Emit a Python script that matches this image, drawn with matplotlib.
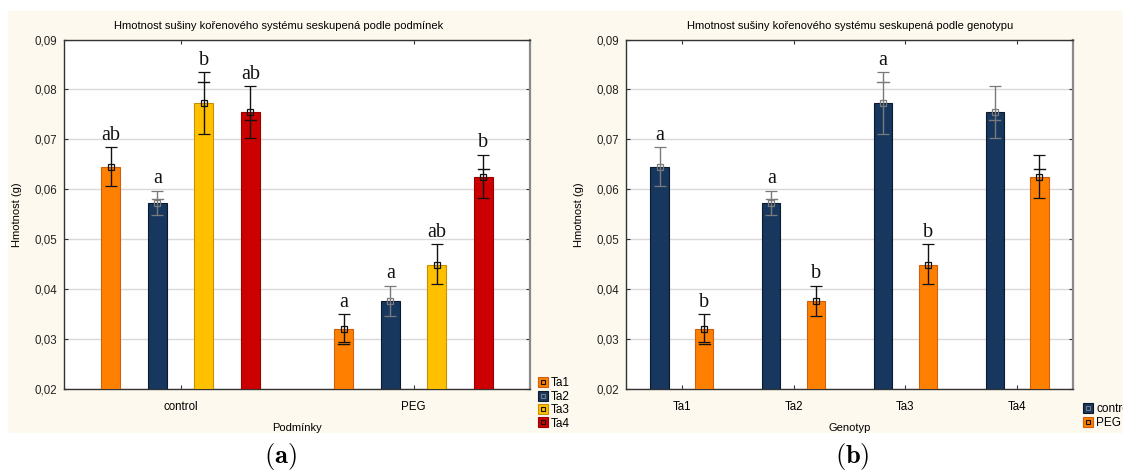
"""Root dry mass by condition / genotype, two grouped bar panels."""
import numpy as np
import matplotlib
matplotlib.use("Agg")
import matplotlib.pyplot as plt
from matplotlib.lines import Line2D
from matplotlib.patches import Rectangle

plt.rcParams["font.family"] = ["Liberation Sans", "DejaVu Sans"]
plt.rcParams["mathtext.fontset"] = "cm"

# ---- data ----
GENOTYPES = ["Ta1", "Ta2", "Ta3", "Ta4"]
CONDITIONS = ["control", "PEG"]

control_mean = [0.0645, 0.0572, 0.0772, 0.0754]
control_hi = [0.0684, 0.0597, 0.0834, 0.0806]
control_lo = [0.0607, 0.0549, 0.0711, 0.0702]
control_inner = [None, 0.0581, 0.0814, 0.0738]   # second (faint) cap

peg_mean = [0.0320, 0.0376, 0.0449, 0.0625]
peg_hi = [0.0350, 0.0407, 0.0490, 0.0669]
peg_lo = [0.0294, 0.0346, 0.0411, 0.0582]
peg_inner = [0.0291, None, None, 0.0641]

# significance letters
letters_by_cond = {"control": ["ab", "a", "b", "ab"], "PEG": ["a", "a", "ab", "b"]}
letters_by_geno = {"control": ["a", "a", "a", ""], "PEG": ["b", "b", "b", ""]}

YTICKS = [0.02, 0.03, 0.04, 0.05, 0.06, 0.07, 0.08, 0.09]
YTICKLABELS = ["0,02", "0,03", "0,04", "0,05", "0,06", "0,07", "0,08", "0,09"]

TITLE_A = "Hmotnost sušiny kořenového systému seskupená podle podmínek"
TITLE_B = "Hmotnost sušiny kořenového systému seskupená podle genotypu"

GENO_COL = {"Ta1": ("#ff8000", "#d06010"), "Ta2": ("#17375e", "#0d1a2c"),
            "Ta3": ("#ffc000", "#c89000"), "Ta4": ("#cc0000", "#9a0000")}
COND_COL = {"control": ("#17375e", "#0d1a2c"), "PEG": ("#ff8000", "#d06010")}
CREAM = "#fdf9ee"
W, H = 1123, 471
FS = 8


def style_axes(ax, nx):
    ax.set_ylim(0.02, 0.09)
    ax.set_xlim(-0.5, nx - 0.5)
    ax.set_yticks(YTICKS)
    ax.set_yticklabels(YTICKLABELS, fontsize=FS + 0.3, color="#222")
    ax.yaxis.grid(True, color="#d9d9d9", lw=1)
    ax.set_axisbelow(True)
    ax.tick_params(axis="both", direction="in", length=3, width=0.8, color="#333",
                   top=True, right=True, pad=5)
    ax.tick_params(axis="x", labelsize=FS + 0.3, pad=9)
    for s in ("left", "bottom", "top"):
        ax.spines[s].set_color("#333"); ax.spines[s].set_linewidth(1.0)
    ax.spines["right"].set_color("#8a8a8a"); ax.spines["right"].set_linewidth(1.6)
    ax.set_ylabel("Hmotnost (g)", fontsize=FS, labelpad=9)


def draw_bar(ax, x, m, lo, hi, inner, face, edge, width, letter):
    ax.bar(x, m - 0.02, bottom=0.02, width=width, color=face, edgecolor=edge, lw=0.8, zorder=3)
    ec = "#7a7a7a" if face == "#17375e" else "#111"
    ax.errorbar(x, m, yerr=[[m - lo], [hi - m]], fmt="s", ms=4.5, mfc="none", mec=ec,
                mew=0.9, ecolor=ec, elinewidth=1.0, capsize=4, capthick=1.0, zorder=4)
    if inner is not None:
        ax.plot([x - 0.3 * width, x + 0.3 * width], [inner, inner], color=ec, lw=1.0, zorder=4)
    if letter:
        ax.text(x, hi + 0.0005, letter, ha="center", va="bottom", fontsize=14.5,
                family="Liberation Serif", color="#111", zorder=5)


fig = plt.figure(figsize=(W / 100, H / 100), dpi=100)
fig.patches.append(Rectangle((8 / W, 1 - 433 / H), 1 - 8 / W, (433 - 11) / H,
                             transform=fig.transFigure, facecolor=CREAM, edgecolor="none",
                             zorder=-5))

# ---- panel (a): grouped by condition ----
axa = fig.add_axes([64 / W, 1 - 389 / H, 466 / W, 349.5 / H])
style_axes(axa, 2)
means = {"control": control_mean, "PEG": peg_mean}
his = {"control": control_hi, "PEG": peg_hi}
los = {"control": control_lo, "PEG": peg_lo}
inners = {"control": control_inner, "PEG": peg_inner}
offs_a = [-0.3, -0.1, 0.1, 0.3]
for ci, cond in enumerate(CONDITIONS):
    for gi, g in enumerate(GENOTYPES):
        face, edge = GENO_COL[g]
        draw_bar(axa, ci + offs_a[gi], means[cond][gi], los[cond][gi], his[cond][gi],
                 inners[cond][gi], face, edge, 0.08, letters_by_cond[cond][gi])
axa.set_xticks(range(len(CONDITIONS)))
axa.set_xticklabels(CONDITIONS)
axa.set_xlabel("Podmínky", fontsize=FS, labelpad=7)
fig.text(279 / W, 1 - 26 / H, TITLE_A, ha="center", va="center", fontsize=FS)

# ---- panel (b): grouped by genotype ----
axb = fig.add_axes([626 / W, 1 - 389 / H, 447 / W, 349.5 / H])
style_axes(axb, 4)
offs_b = {"control": -0.2, "PEG": 0.2}
for cond in CONDITIONS:
    face, edge = COND_COL[cond]
    for gi, g in enumerate(GENOTYPES):
        draw_bar(axb, gi + offs_b[cond], means[cond][gi], los[cond][gi], his[cond][gi],
                 inners[cond][gi], face, edge, 0.165, letters_by_geno[cond][gi])
axb.set_xticks(range(len(GENOTYPES)))
axb.set_xticklabels(GENOTYPES)
axb.set_xlabel("Genotyp", fontsize=FS, labelpad=7)
fig.text(850 / W, 1 - 26 / H, TITLE_B, ha="center", va="center", fontsize=FS)


def leg_handle(face, edge):
    ec = "#7a7a7a" if face == "#17375e" else "#111"
    return (Line2D([], [], ls="none", marker="s", ms=6.8, mfc=face, mec=edge, mew=0.8),
            Line2D([], [], ls="none", marker="s", ms=3.2, mfc="none", mec=ec, mew=0.8))


fig.legend([leg_handle(*GENO_COL[g]) for g in GENOTYPES], GENOTYPES,
           loc="upper left", bbox_to_anchor=(530 / W, 1 - 369 / H), frameon=False,
           fontsize=FS + 0.5, handlelength=0.8, handletextpad=0.3, labelspacing=0.12,
           borderpad=0.2)
fig.legend([leg_handle(*COND_COL[c]) for c in CONDITIONS], CONDITIONS,
           loc="upper left", bbox_to_anchor=(1075 / W, 1 - 395 / H), frameon=False,
           fontsize=FS + 0.5, handlelength=0.8, handletextpad=0.3, labelspacing=0.12,
           borderpad=0.2)

fig.text(280 / W, 1 - 456 / H, r"$\mathbf{(a)}$", ha="center", va="center", fontsize=19)
fig.text(852 / W, 1 - 456 / H, r"$\mathbf{(b)}$", ha="center", va="center", fontsize=19)

fig.savefig("out.png", dpi=100)
